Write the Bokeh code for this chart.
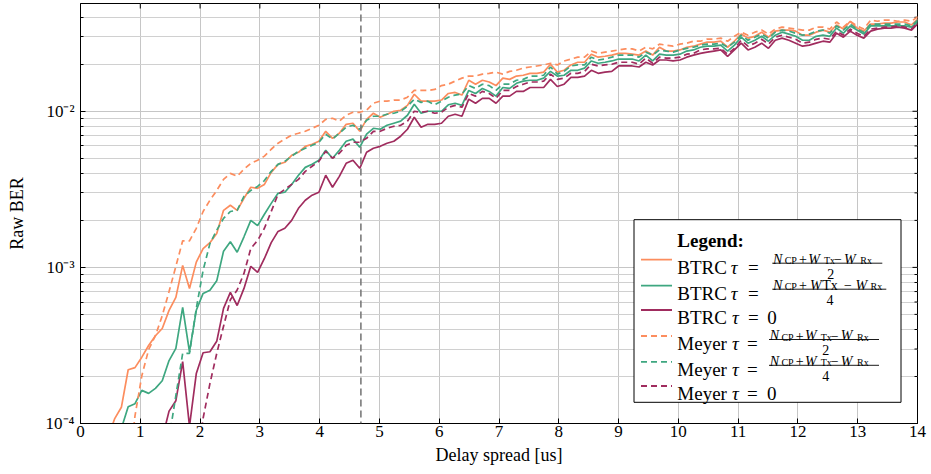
from bokeh.plotting import figure
from bokeh.models import FixedTicker, Span, Label, BoxAnnotation, Arrow
from bokeh.embed import file_html
from bokeh.resources import INLINE

# ---------------- data ----------------
SAMPLE_RATE_MHZ = 30.72      # sampling rate of the delay-spread grid
STEP_SAMPLES = 3.5           # grid step (samples) between simulated delay spreads
CP_LENGTH_US = 4.69          # dashed marker: cyclic-prefix length

X_MIN, X_MAX = 0, 14
Y_MIN, Y_MAX = 1e-4, 0.049
x_ticks = list(range(0, 15))
y_major_ticks = [1e-4, 1e-3, 1e-2]
y_tick_labels = ["10⁻⁴", "10⁻³", "10⁻²"]
y_minor_ticks = [2e-4, 3e-4, 4e-4, 5e-4, 6e-4, 7e-4, 8e-4, 9e-4,
                 2e-3, 3e-3, 4e-3, 5e-3, 6e-3, 7e-3, 8e-3, 9e-3,
                 2e-2, 3e-2, 4e-2]

# Raw BER given in units of 1e-3; the first value belongs to grid index *_start
btrc_half_start = 4
btrc_half = [
    0.080, 0.107, 0.127, 0.221, 0.228, 0.266, 0.316, 0.365, 0.406, 0.53,
    0.642, 1.03, 0.733, 1.08, 1.32, 1.44, 1.65, 2.32, 2.50, 2.32,
    2.77, 3.26, 3.21, 3.40, 4.06, 4.57, 4.71, 5.22, 5.46, 5.96,
    6.15, 6.43, 7.44, 6.71, 7.23, 8.25, 8.38, 7.44, 8.88, 9.71,
    9.15, 9.57, 10.0, 10.15, 10.9, 12.85, 11.6, 11.6, 11.6, 11.8,
    13.0, 13.2, 12.7, 15.8, 14.9, 15.8, 15.4, 14.6, 16.3, 16.0,
    16.8, 17.0, 17.5, 17.5, 17.8, 20.0, 17.8, 18.3, 19.8, 20.6,
    20.6, 23.2, 22.2, 22.5, 22.9, 23.5, 23.5, 23.2, 22.9, 24.3,
    22.9, 25.7, 24.3, 24.3, 24.7, 25.7, 26.1, 26.9, 27.7, 27.7,
    28.1, 25.7, 28.1, 31.2, 29.4, 30.2, 32.1, 29.8, 32.6, 33.1,
    33.1, 32.6, 30.7, 30.7, 32.1, 33.1, 32.1, 35.7, 33.6, 37.7,
    34.1, 32.6, 36.2, 36.2, 36.7, 36.7, 37.3, 37.3, 35.7, 39.2,
]

btrc_quarter_start = 6
btrc_quarter = [
    0.093, 0.128, 0.134, 0.163, 0.156, 0.168, 0.188, 0.253, 0.303, 0.554,
    0.288, 0.531, 0.681, 0.713, 0.82, 1.27, 1.46, 1.25, 1.57, 2.00,
    1.85, 2.19, 2.57, 2.98, 3.03, 3.40, 3.89, 4.37, 4.58, 4.86,
    5.62, 5.00, 5.62, 6.43, 6.63, 5.88, 7.13, 7.78, 7.67, 8.13,
    8.38, 8.64, 9.43, 11.1, 9.71, 10.0, 10.0, 10.0, 11.0, 11.25,
    10.9, 13.6, 13.0, 14.0, 13.4, 12.5, 14.2, 14.0, 15.1, 15.6,
    15.8, 15.8, 16.3, 18.0, 16.8, 17.0, 18.3, 18.3, 18.9, 21.0,
    20.3, 20.6, 21.0, 21.6, 21.6, 21.6, 21.0, 22.9, 21.0, 23.2,
    22.9, 22.9, 23.2, 24.3, 24.7, 25.7, 26.1, 26.1, 26.5, 24.3,
    26.5, 29.8, 27.3, 28.5, 30.2, 28.1, 30.7, 32.1, 31.2, 30.2,
    28.5, 28.5, 30.2, 30.7, 30.2, 34.1, 31.6, 35.2, 33.1, 31.2,
    35.2, 35.2, 35.2, 35.2, 35.2, 35.2, 34.6, 37.7,
]

btrc_zero_start = 12
btrc_zero = [
    0.080, 0.120, 0.140, 0.249, 0.096, 0.209, 0.284, 0.288, 0.336, 0.546,
    0.691, 0.570, 0.733, 1.015, 0.93, 1.14, 1.44, 1.70, 1.78, 2.00,
    2.39, 2.69, 2.90, 3.03, 3.89, 3.26, 3.83, 4.64, 4.86, 4.31,
    5.46, 5.79, 5.96, 6.24, 6.43, 6.92, 7.67, 9.15, 7.90, 8.25,
    8.25, 8.38, 9.29, 9.57, 9.29, 11.95, 11.25, 12.1, 12.1, 11.25,
    12.5, 12.5, 13.4, 13.4, 14.2, 14.2, 14.2, 16.0, 14.4, 14.9,
    16.5, 16.5, 16.8, 18.3, 17.5, 17.8, 18.0, 19.5, 19.5, 19.5,
    19.2, 20.6, 19.8, 21.3, 21.3, 21.0, 21.3, 22.2, 22.9, 23.5,
    23.9, 24.3, 24.7, 22.5, 24.7, 27.3, 24.7, 25.7, 27.3, 25.3,
    28.5, 29.4, 28.5, 27.3, 26.1, 26.5, 27.3, 28.1, 27.7, 31.6,
    29.8, 32.6, 30.7, 29.4, 32.6, 33.6, 34.1, 34.1, 34.6, 34.1, 33.1, 36.6,
]

meyer_half_start = 7
meyer_half = [
    0.045, 0.112, 0.202, 0.297, 0.365, 0.49, 0.70, 1.015, 1.48, 1.48,
    1.78, 2.28, 2.69, 3.11, 3.66, 4.00, 3.83, 4.25, 4.64, 4.86,
    5.16, 5.71, 6.24, 6.63, 7.03, 7.23, 7.44, 7.78, 8.13, 8.88,
    9.02, 8.64, 9.43, 9.85, 9.85, 10.15, 11.25, 11.6, 11.6, 11.8,
    11.8, 12.3, 13.6, 13.6, 13.6, 13.8, 14.6, 14.9, 15.6, 16.3,
    16.8, 16.8, 17.3, 17.5, 17.8, 17.3, 18.0, 18.3, 18.9, 19.2,
    19.5, 19.8, 20.3, 19.8, 21.0, 21.6, 22.2, 22.2, 24.3, 23.5,
    23.9, 24.3, 24.7, 25.1, 25.1, 24.3, 25.7, 25.1, 26.9, 26.5,
    26.1, 26.9, 27.3, 28.1, 28.1, 29.0, 29.0, 29.4, 28.1, 30.2,
    32.1, 30.7, 32.1, 33.1, 31.2, 33.6, 34.6, 34.1, 33.6, 33.1,
    33.1, 34.6, 34.6, 33.6, 37.3, 34.6, 37.7, 35.2, 33.6, 38.3,
    37.7, 38.3, 38.3, 37.7, 38.3, 37.7, 40.6,
]

meyer_quarter_start = 13
meyer_quarter = [
    0.080, 0.151, 0.281, 0.281, 0.546, 0.957, 1.42, 1.73, 2.06, 2.28,
    2.32, 2.85, 3.11, 3.30, 3.60, 4.12, 4.57, 4.78, 5.16, 5.54,
    5.79, 6.05, 6.33, 7.13, 6.63, 7.23, 7.90, 8.13, 7.67, 8.75,
    9.29, 9.29, 9.57, 9.71, 10.0, 10.75, 11.95, 11.4, 11.6, 11.0,
    11.6, 12.3, 12.7, 12.9, 14.6, 14.0, 14.9, 14.6, 13.6, 14.9,
    14.9, 15.8, 16.0, 16.8, 16.8, 17.0, 19.2, 17.3, 18.0, 19.5,
    19.8, 19.8, 22.2, 21.3, 21.6, 22.2, 22.9, 22.9, 22.9, 22.2,
    23.9, 22.9, 24.7, 24.3, 23.9, 24.7, 25.3, 25.7, 26.5, 26.9,
    26.9, 27.3, 25.7, 27.7, 30.7, 28.5, 29.8, 31.2, 29.4, 32.1,
    33.1, 32.6, 31.6, 30.7, 31.2, 32.6, 33.1, 31.6, 35.2, 33.1,
    36.2, 33.6, 32.1, 36.2, 36.2, 36.2, 36.2, 36.2, 36.2, 35.2, 38.6,
]

meyer_zero_start = 17
meyer_zero = [
    0.052, 0.108, 0.180, 0.281, 0.42, 0.62, 0.716, 0.915, 1.32, 1.49,
    1.78, 2.28, 2.94, 3.16, 3.40, 3.66, 4.12, 4.44, 4.78, 5.54,
    5.00, 5.38, 6.05, 6.33, 6.33, 6.71, 7.44, 7.44, 7.78, 8.01,
    8.13, 8.64, 10.0, 9.85, 10.0, 9.71, 9.85, 10.6, 10.9, 10.6,
    13.0, 12.5, 13.4, 13.0, 12.1, 13.6, 13.6, 14.4, 14.9, 15.4,
    15.4, 15.6, 17.3, 16.0, 16.3, 17.5, 17.5, 18.0, 20.0, 19.5,
    19.8, 20.0, 20.6, 20.6, 20.6, 20.0, 21.9, 20.3, 22.2, 21.9,
    21.9, 22.2, 23.2, 23.5, 24.7, 25.1, 25.1, 25.3, 23.2, 25.3,
    28.5, 26.1, 27.3, 28.9, 26.9, 29.8, 30.7, 29.8, 28.9, 27.3,
    27.7, 28.9, 29.4, 28.9, 32.6, 30.7, 33.6, 31.6, 30.2, 33.6,
    34.1, 34.6, 34.6, 35.2, 34.6, 33.6, 37.2,
]

# ---------------- styling ----------------
ORANGE = "#fc8d5e"
GREEN = "#3ea780"
PURPLE = "#a02c5e"
FONT = "Liberation Serif"
DASH = "6 4"

series = [
    (btrc_half, btrc_half_start, ORANGE, "solid"),
    (btrc_quarter, btrc_quarter_start, GREEN, "solid"),
    (btrc_zero, btrc_zero_start, PURPLE, "solid"),
    (meyer_half, meyer_half_start, ORANGE, DASH),
    (meyer_quarter, meyer_quarter_start, GREEN, DASH),
    (meyer_zero, meyer_zero_start, PURPLE, DASH),
]


def delays(start, values):
    return [(start + i) * STEP_SAMPLES / SAMPLE_RATE_MHZ for i in range(len(values))]


p = figure(width=927, height=472, x_range=(X_MIN, X_MAX), y_range=(Y_MIN, Y_MAX),
           y_axis_type="log", output_backend="svg", toolbar_location=None,
           min_border_left=80, min_border_right=10, min_border_top=3,
           min_border_bottom=49, background_fill_color="white",
           border_fill_color="white")

p.outline_line_color = "black"
p.outline_line_width = 1
p.outline_line_alpha = 1

# grids
p.xgrid.grid_line_color = "#c6c6c6"
p.ygrid.grid_line_color = "#c6c6c6"
p.ygrid.minor_grid_line_color = "#d0d0d0"
p.xgrid.grid_line_width = 1
p.ygrid.grid_line_width = 1

# axes
p.xaxis.ticker = FixedTicker(ticks=x_ticks)
p.yaxis.ticker = FixedTicker(ticks=y_major_ticks, minor_ticks=y_minor_ticks)
p.yaxis.major_label_overrides = dict(zip(y_major_ticks, y_tick_labels))
for ax in (p.xaxis[0], p.yaxis[0]):
    ax.axis_line_color = "black"
    ax.major_tick_line_color = "black"
    ax.major_tick_in = 5
    ax.major_tick_out = 0
    ax.minor_tick_in = 3
    ax.minor_tick_out = 0
    ax.major_label_text_font = FONT
    ax.major_label_text_font_size = "17px"
    ax.major_label_text_color = "black"
    ax.axis_label_text_font = FONT
    ax.axis_label_text_font_size = "18px"
    ax.axis_label_text_font_style = "normal"
    ax.axis_label_text_color = "black"
p.xaxis.minor_tick_line_color = None
p.yaxis.minor_tick_line_color = "black"
p.xaxis.axis_label = "Delay spread [us]"
p.yaxis.axis_label = "Raw BER"
p.xaxis.major_label_standoff = 2
p.xaxis.axis_label_standoff = 5
p.yaxis.major_label_standoff = 6
p.yaxis.axis_label_standoff = 16

# mirrored inward ticks on the top and right frame edges (pgfplots style)
PX_PER_DECADE = 155.9
PX_PER_US = 59.8
top_len = 10 ** (-5 / PX_PER_DECADE)
p.segment(x0=x_ticks, y0=[Y_MAX] * len(x_ticks), x1=x_ticks,
          y1=[Y_MAX * top_len] * len(x_ticks), line_color="black", line_width=1)
p.segment(x0=[X_MAX] * len(y_major_ticks), y0=y_major_ticks,
          x1=[X_MAX - 5 / PX_PER_US] * len(y_major_ticks), y1=y_major_ticks,
          line_color="black", line_width=1)
p.segment(x0=[X_MAX] * len(y_minor_ticks), y0=y_minor_ticks,
          x1=[X_MAX - 3 / PX_PER_US] * len(y_minor_ticks), y1=y_minor_ticks,
          line_color="black", line_width=1)

# curves
for values, start, color, dash in series:
    p.line(delays(start, values), [v * 1e-3 for v in values],
           line_color=color, line_width=1.7, line_dash=dash)

p.add_layout(Span(location=CP_LENGTH_US, dimension="height", line_color="#7a7a7a",
                  line_width=1.6, line_dash="7 4"))

# ---------------- legend, placed relative to the plot frame ----------------
FRAME_LEFT = 81.5     # page x of the frame's left edge
FRAME_BOTTOM = 424.5  # page y of the frame's bottom edge


def sx(x):
    return x - FRAME_LEFT


def sy(y):
    return FRAME_BOTTOM - y


def add_text(text, x, y, size="19px", style="normal", align="left",
             baseline="alphabetic"):
    p.add_layout(Label(x=sx(x), y=sy(y), x_units="screen", y_units="screen",
                       text=text, text_font=FONT, text_font_size=size,
                       text_font_style=style, text_align=align,
                       text_baseline=baseline, text_color="black"))


def add_seg(x0, x1, y, color, width, dash="solid"):
    p.add_layout(Arrow(end=None, x_start=sx(x0), y_start=sy(y), x_end=sx(x1),
                       y_end=sy(y), start_units="screen", end_units="screen",
                       line_color=color, line_width=width, line_dash=dash))


p.add_layout(BoxAnnotation(left=sx(635), right=sx(902), top=sy(220.7),
                           bottom=sy(403.3), left_units="screen",
                           right_units="screen", top_units="screen",
                           bottom_units="screen", fill_color="white",
                           fill_alpha=1.0, line_color="black", line_width=1,
                           line_alpha=1.0))

add_text("Legend:", 678.3, 241.7, style="bold")

NUM, SUB = "14px", "10px"
frac_full = [("N", 0.7, "italic", NUM, 0), ("CP", 12.4, "normal", SUB, 1),
             ("+", 26.7, "normal", NUM, 0), ("W", 36.0, "italic", NUM, 0),
             ("Tx", 51.7, "normal", SUB, 1), ("−", 61.7, "normal", NUM, 0),
             ("W", 71.7, "italic", NUM, 0), ("Rx", 88.0, "normal", SUB, 1)]
frac_typo = [("N", 0.7, "italic", NUM, 0), ("CP", 12.4, "normal", SUB, 1),
             ("+", 26.7, "normal", NUM, 0), ("W", 37.7, "italic", NUM, 0),
             ("Tx", 50.0, "normal", NUM, 0), ("−", 71.7, "normal", NUM, 0),
             ("W", 83.3, "italic", NUM, 0), ("Rx", 98.3, "normal", SUB, 1)]

legend_rows = [
    dict(name="BTRC", c=261.7, color=ORANGE, dash="solid", tau=731.7, eq=749,
         frac=frac_full, den="2", fx=773.3, bar=110, den_x=58.4),
    dict(name="BTRC", c=287.7, color=GREEN, dash="solid", tau=731.7, eq=749,
         frac=frac_typo, den="4", fx=773.3, bar=114, den_x=57.7),
    dict(name="BTRC", c=312.0, color=PURPLE, dash="solid", tau=733.0, eq=749,
         zero=768.3),
    dict(name="Meyer", c=338.0, color=ORANGE, dash=DASH, tau=733.0, eq=748,
         frac=frac_full, den="2", fx=770.0, bar=110, den_x=56.7),
    dict(name="Meyer", c=363.8, color=GREEN, dash=DASH, tau=733.0, eq=748,
         frac=frac_full, den="4", fx=770.0, bar=110, den_x=56.7),
    dict(name="Meyer", c=388.0, color=PURPLE, dash=DASH, tau=733.0, eq=748,
         zero=768.0),
]

for row in legend_rows:
    c = row["c"]
    add_seg(642, 673, c - 1.0, row["color"], 1.8, row["dash"])
    base = c + 6.6
    add_text(row["name"], 678.3, base)
    add_text("τ", row["tau"], base, style="italic")
    add_text("=", row["eq"], base)
    if "zero" in row:
        add_text("0", row["zero"], base)
        continue
    fx = row["fx"]
    for txt, dx, style, size, is_sub in row["frac"]:
        add_text(txt, fx + dx, c + (0.0 if is_sub else -1.5), size=size, style=style)
    add_seg(fx, fx + row["bar"], c + 2.5, "black", 0.9)
    add_text(row["den"], fx + row["den_x"], c + 13.0, size=NUM, align="center")

open("out.html", "w").write(file_html(p, INLINE))
